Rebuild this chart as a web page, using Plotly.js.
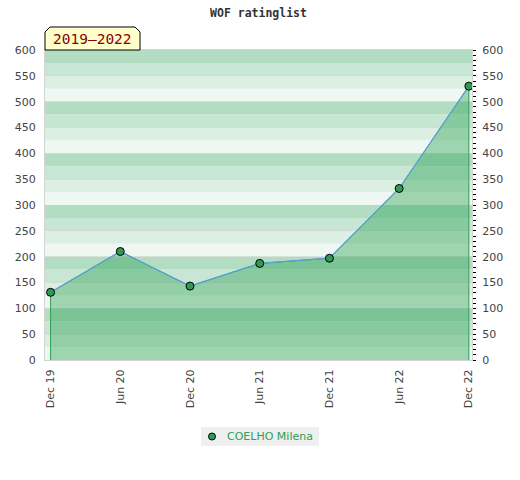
<!DOCTYPE html>
<html>
<head>
<meta charset="utf-8">
<script src="https://cdn.plot.ly/plotly-3.0.1.min.js"></script>
<style>html,body{margin:0;padding:0;background:#fff;}#chart{width:520px;height:480px;}</style>
</head>
<body>
<div id="chart"></div>
<script>
// ---- data ----
var periods = ['Dec 19', 'Jun 20', 'Dec 20', 'Jun 21', 'Dec 21', 'Jun 22', 'Dec 22'];
var ratings = [131, 210, 143, 187, 197, 332, 530];
var playerName = 'COELHO Milena';
var chartTitle = 'WOF ratinglist';
var periodLabel = '2019\u20132022';
var yTicks = [0, 50, 100, 150, 200, 250, 300, 350, 400, 450, 500, 550, 600];

// polygon for the filled area (built from data)
var polyX = [periods[0]].concat(periods).concat([periods[periods.length - 1]]);
var polyY = [0].concat(ratings).concat([0]);

var fillTrace = {
  x: polyX, y: polyY, type: 'scatter', mode: 'lines',
  fill: 'toself', fillcolor: 'rgba(40,160,80,0.40)',
  line: {color: '#2fa052', width: 1},
  showlegend: false, hoverinfo: 'skip'
};
var lineTrace = {
  x: periods, y: ratings, type: 'scatter', mode: 'lines',
  line: {color: '#5a9fdc', width: 1.2},
  showlegend: false
};
var markerTrace = {
  x: periods, y: ratings, type: 'scatter', mode: 'markers',
  name: playerName, showlegend: false,
  marker: {color: '#2f9a55', size: 8, line: {color: '#000', width: 1}}
};
var axisDummy = {
  x: periods, y: ratings, yaxis: 'y2', type: 'scatter', mode: 'markers',
  marker: {opacity: 0}, showlegend: false, hoverinfo: 'skip'
};

// background bands every 25 units
var bandColors = ['#eef7f1', '#dcefe3', '#c8e6d4', '#b3ddc3'];
var shapes = [];
for (var b = 0; b < 600; b += 25) {
  shapes.push({type: 'rect', xref: 'paper', yref: 'y', x0: 0, x1: 1, y0: b, y1: b + 25,
    fillcolor: bandColors[(b / 25) % 4], line: {width: 0}, layer: 'below'});
}
// pixel -> paper helpers (plot area 427x310 starting at 45,50)
var W = 427, H = 310;
function px(v) { return (v - 45) / W; }
function py(v) { return (360 - v) / H; }
// title tab with cut corners
shapes.push({type: 'path', xref: 'paper', yref: 'paper', layer: 'above',
  path: 'M ' + px(45) + ',' + py(50) + ' L ' + px(45) + ',' + py(32) + ' L ' + px(50) + ',' + py(27) +
        ' L ' + px(135) + ',' + py(27) + ' L ' + px(140) + ',' + py(32) + ' L ' + px(140) + ',' + py(50) + ' Z',
  fillcolor: '#ffffcc', line: {color: '#000', width: 1}});
// legend box
shapes.push({type: 'rect', xref: 'paper', yref: 'paper', layer: 'above',
  x0: px(201), x1: px(319), y0: py(446), y1: py(427),
  fillcolor: '#efefef', line: {width: 0}});
shapes.push({type: 'circle', xref: 'paper', yref: 'paper', layer: 'above',
  x0: px(208.5), x1: px(215.5), y0: py(440), y1: py(433),
  fillcolor: '#2f9a55', line: {color: '#000', width: 1}});

var tickFont = {family: 'DejaVu Sans, sans-serif', size: 11, color: '#444'};

var layout = {
  width: 520, height: 480,
  margin: {l: 45, r: 48, t: 50, b: 120},
  paper_bgcolor: '#ffffff', plot_bgcolor: '#ffffff',
  showlegend: false,
  title: {text: chartTitle, x: 0.5, xref: 'paper', y: 0.972, yanchor: 'middle',
    font: {family: 'DejaVu Sans Mono, monospace', size: 11.5, color: '#333', weight: 'bold'}},
  xaxis: {
    type: 'category', range: [-0.08, 6.045], tickangle: -90,
    tickfont: tickFont, showgrid: false, zeroline: false,
    showline: true, linecolor: '#d4d4d4', linewidth: 1, mirror: true,
    ticks: 'outside', ticklen: 4, tickcolor: 'rgba(0,0,0,0)'
  },
  yaxis: {
    range: [0, 600], tickvals: yTicks, tickfont: tickFont,
    showgrid: true, gridcolor: 'rgba(200,205,200,0.55)', gridwidth: 1,
    zeroline: false, showline: true, linecolor: '#d4d4d4', linewidth: 1, mirror: true,
    ticks: 'outside', ticklen: 6, tickcolor: 'rgba(0,0,0,0)'
  },
  yaxis2: {
    overlaying: 'y', side: 'right', range: [0, 600], tickvals: yTicks,
    tickfont: tickFont, showgrid: false, zeroline: false, showline: false,
    ticks: 'outside', ticklen: 3, tickcolor: '#000', tickwidth: 1,
    ticklabelstandoff: 4,
    minor: {dtick: 10, ticks: 'outside', ticklen: 3, tickcolor: '#000', tickwidth: 1, showgrid: false}
  },
  shapes: shapes,
  annotations: [{
    text: periodLabel, xref: 'paper', yref: 'paper', x: px(92.5), y: py(38.5),
    xanchor: 'center', yanchor: 'middle', showarrow: false,
    font: {family: 'DejaVu Sans Mono, monospace', size: 14.5, color: '#8b0000'}
  }, {
    text: playerName, xref: 'paper', yref: 'paper', x: px(225), y: py(436.5),
    xanchor: 'left', yanchor: 'middle', showarrow: false,
    font: {family: 'DejaVu Sans, sans-serif', size: 11, color: '#2ea052'}
  }]
};

Plotly.newPlot('chart', [fillTrace, lineTrace, markerTrace, axisDummy], layout, {displayModeBar: false, staticPlot: true});
</script>
</body>
</html>
